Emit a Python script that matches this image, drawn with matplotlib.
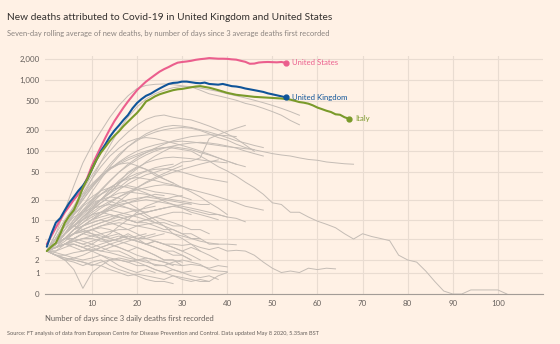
import matplotlib
matplotlib.use("Agg")
import matplotlib.pyplot as plt
import numpy as np

plt.rcParams['font.family'] = ['Lato', 'DejaVu Sans']

# Highlighted countries, one value per day since 3 deaths first recorded
us = [4, 5.5, 7.5, 10, 13, 16, 20, 24, 30, 42, 62, 85, 115, 155, 205, 265, 330,
      410, 500, 600, 720, 830, 950, 1060, 1180, 1310, 1420, 1520, 1640, 1750,
      1790, 1820, 1860, 1920, 1960, 1990, 2030, 2010, 1990, 1990, 1980, 1950,
      1930, 1860, 1800, 1690, 1700, 1760, 1780, 1790, 1780, 1770, 1790, 1740]
uk = [3.6, 6, 9, 10.6, 14, 18, 22, 27, 32, 40, 55, 75, 100, 125, 160, 195, 230,
      275, 322, 400, 475, 540, 600, 640, 700, 760, 820, 880, 910, 920, 950, 950,
      930, 910, 900, 920, 880, 870, 860, 880, 850, 820, 810, 790, 760, 740, 720,
      700, 680, 650, 630, 610, 590, 570]
italy = [3, 3.6, 4.2, 6, 9, 11.5, 14, 20, 30, 40, 55, 75, 95, 115, 140, 165, 190,
         225, 260, 300, 345, 410, 500, 540, 590, 630, 660, 690, 720, 740, 750,
         770, 790, 810, 820, 800, 780, 750, 720, 690, 660, 640, 620, 610, 600,
         590, 580, 575, 570, 565, 560, 555, 550, 540, 530, 510, 490, 480, 465,
         440, 410, 390, 370, 355, 330, 325, 300, 285]

# Other countries, one value every second day
spain = [3, 6, 14, 32, 68, 120, 190, 300, 440, 600, 760, 840, 870, 880, 860, 830,
         800, 720, 640, 600, 560, 520, 470, 440, 400, 360, 320, 270, 235]
france = [3, 4, 7, 12, 22, 40, 70, 120, 200, 300, 420, 540, 640, 720, 780, 810,
          800, 770, 730, 690, 640, 600, 560, 520, 480, 440, 400, 360, 320]
belgium = [3, 5, 9, 16, 28, 45, 70, 100, 140, 185, 234, 280, 310, 322, 300, 285,
           275, 250, 225, 200, 175, 150, 122, 99]
germany = [3, 4, 6, 10, 16, 26, 40, 60, 85, 115, 145, 175, 200, 220, 230, 225,
           215, 200, 185, 170, 155, 140, 130, 120, 112]
iran = [3, 5, 8, 13, 20, 30, 45, 65, 90, 115, 140, 165, 185, 200, 210, 215, 210,
        195, 175, 155, 143, 125, 112, 104, 98, 92, 88, 85, 80, 76, 74, 70, 68,
        66, 65]
china = [3, 5, 9, 15, 22, 32, 42, 55, 68, 80, 90, 100, 108, 112, 110, 105, 100,
         85, 72, 60, 52, 44, 36, 30, 24, 18, 17, 13, 13, 11, 9.5, 8.5, 7.5, 6,
         4.9, 6, 5.4, 5, 4.6, 2.5, 2, 1.8, 1.1, 0.5, 0.1, 0, 0, 0.14, 0.14, 0.14,
         0.14, 0]
south_korea = [3, 4, 5, 6, 6.5, 6, 5.5, 5, 5.5, 5, 4.5, 4, 4.5, 4, 4, 3.8, 4,
               3.5, 3.2, 3.5, 3, 3.1, 3, 2.5, 1.8, 1.3, 1.0, 1.1, 1.0, 1.3,
               1.2, 1.3, 1.25]
netherlands = [3, 5, 9, 15, 25, 40, 60, 85, 110, 135, 150, 155, 150, 140, 130,
               120, 110, 100, 90, 80, 72, 65, 60]
brazil = [3, 4, 6, 8, 11, 14, 18, 22, 28, 34, 40, 46, 50, 55, 60, 70, 72, 80,
          150, 170, 190, 210, 230]
turkey = [3, 6, 10, 16, 24, 34, 45, 55, 65, 75, 85, 95, 105, 112, 115, 110, 105,
          95, 88, 80, 72, 65]
canada = [3, 4, 6, 9, 14, 20, 28, 38, 50, 65, 80, 95, 110, 125, 140, 150, 160,
          165, 170, 168, 165, 160]
sweden = [3, 3.5, 5, 7, 10, 14, 20, 28, 38, 48, 58, 68, 75, 80, 82, 80, 78, 75,
          72, 70, 68]
mexico = [3, 4, 6, 8, 11, 15, 20, 26, 34, 44, 56, 70, 85, 100, 115]
russia = [3, 4, 5, 6, 8, 10, 12, 15, 19, 24, 30, 36, 42, 48, 55, 62]
switzerland = [3, 5, 9, 14, 22, 32, 45, 58, 65, 68, 62, 55, 48, 40, 35, 30, 26,
               22, 18, 15, 12]
ireland = [3, 4, 6, 9, 13, 18, 24, 30, 36, 40, 42, 40, 38, 35, 33, 30, 28]
portugal = [3, 5, 8, 12, 17, 22, 27, 30, 32, 30, 28, 25, 22, 19, 17, 15, 13, 12,
            11, 10]
ecuador = [3, 4, 6, 9, 12, 16, 20, 25, 35, 50, 60, 55, 45, 40, 35]
india = [3, 4, 5, 7, 9, 12, 15, 18, 22, 26, 30, 35, 40, 45, 50, 55, 60, 65, 70,
         75]
peru = [3, 4, 6, 8, 11, 15, 20, 25, 30, 38, 45, 52, 58, 62, 65]
indonesia = [3, 5, 8, 11, 13, 15, 16, 17, 16, 15, 14, 13, 14, 15, 16, 15, 14, 13,
             12, 12, 11]
philippines = [3, 4, 6, 8, 10, 12, 13, 14, 13, 12, 11, 10, 9, 9, 8, 8, 7, 7, 6]
romania = [3, 4, 6, 8, 11, 14, 18, 22, 25, 26, 25, 24, 22, 21, 20, 19, 18, 17, 17]
poland = [3, 3.5, 4.5, 6, 8, 10, 13, 16, 18, 20, 21, 22, 21, 20, 19, 18, 17]
austria = [3, 4, 6, 9, 13, 17, 20, 22, 21, 18, 15, 12, 10, 8, 6, 5, 4, 3, 2.5, 2]
denmark = [3, 4, 6, 8, 10, 12, 13, 12, 11, 10, 9, 9, 8, 7, 7, 6, 6, 5, 4, 4]
japan = [3, 3, 4, 4, 3.5, 4, 5, 6, 8, 10, 13, 16, 18, 20, 22, 23]
egypt = [3, 4, 5, 6, 7, 8, 9, 10, 11, 10, 9, 10, 11, 12, 13, 13, 12]
algeria = [3, 5, 7, 10, 14, 18, 20, 19, 17, 15, 13, 11, 9, 8, 7, 6, 5, 5]
hungary = [3, 4, 5, 7, 8, 10, 11, 12, 11, 10, 9, 10, 11, 10, 9, 8]
chile = [3, 3.5, 4, 5, 6, 7, 8, 9, 10, 11, 12, 13, 14, 15]
colombia = [3, 4, 5, 6, 8, 9, 10, 11, 12, 11, 12, 13, 14, 15, 16, 17, 18]
argentina = [3, 3.5, 4, 5, 6, 5.5, 5, 4.5, 5, 6, 5, 4, 4.5, 4, 3.5, 3, 3.5, 3]
dominican_rep = [3, 4, 6, 8, 7, 6, 5, 5.5, 6, 5, 4.5, 4, 3.5, 3, 3, 2.5, 2]
pakistan = [3, 4, 5, 6, 8, 10, 12, 14, 16, 18, 20, 22, 24, 23]
israel = [3, 4, 5, 7, 8, 9, 10, 9, 8, 7, 6, 5, 4.5, 4, 3.5, 3, 2.5, 2]
saudi_arabia = [3, 3.5, 4, 4.5, 5, 5.5, 6, 6.5, 7, 7, 8, 8.5, 9]
serbia = [3, 4, 5, 6, 6.5, 7, 6, 5, 4.5, 4, 3.5, 3, 2.5, 2, 2, 1.8]
ukraine = [3, 4, 5, 6, 7, 8, 9, 10, 12, 13, 14, 15, 16]
panama = [3, 4, 5, 4.5, 4, 4.5, 5, 4, 3.5, 3, 3.5, 3, 2.5, 2, 2, 1.5]
morocco = [3, 4, 5, 5, 4.5, 4, 3.5, 3, 3, 2.5, 2, 2, 1.5, 1.5, 1.2, 1.0, 1.1]
greece = [3, 3.5, 4, 4, 3.5, 3, 2.5, 2, 2, 1.8, 1.5, 1.5, 1.2, 1.0, 1.2, 1.0,
          0.8, 0.7, 0.8, 0.6]
czechia = [3, 3.5, 4, 5, 6, 7, 7.5, 7, 6, 5, 4.5, 4, 3.5, 3, 2.5, 2.5, 2]
moldova = [3, 3.5, 4, 3.5, 3, 3.5, 4, 4.5, 5, 5.5, 5, 5.5, 6]
finland = [3, 2.5, 2, 2.2, 2.5, 3, 3.5, 4, 3.5, 3, 2.5, 2.2, 2, 1.8, 1.5]
norway = [3, 2.5, 2, 1.2, 0.2, 1.0, 1.5, 2, 2.2, 2, 1.8, 1.5, 1.2, 1.0, 0.8,
          0.7, 0.6, 0.5, 0.5]
bangladesh = [3, 3.5, 4, 4.5, 4, 3.5, 3, 3.5, 4, 4.5, 5, 5, 5.5, 6]
south_africa = [3, 3, 3.5, 4, 3.5, 3, 3.5, 4, 4.5, 5, 5.5, 6]
luxembourg = [3, 2.5, 2, 1.8, 1.5, 1.8, 2, 1.5, 1.2, 1.0, 0.8, 0.6, 0.5, 0.5, 0.4]
bosnia = [3, 2.5, 2.2, 2, 1.8, 1.5, 1.8, 2, 1.5, 1.2, 1.0, 1.2, 1.0]
iraq = [3, 2.5, 2.2, 2, 1.8, 1.6, 1.5, 1.2, 1.0, 0.8, 0.9, 0.8, 0.7, 0.6, 0.8,
        0.6, 0.5, 0.6, 0.5, 0.8, 1.0]
belarus = [3, 3.5, 4, 4.5, 5, 5, 4.5, 4.5, 5, 5.5]
slovenia = [3, 2.8, 2.5, 2.2, 2.0, 2.2, 2.5, 2.2, 2.0, 1.8, 2.0, 2.2, 2.0, 1.8,
            1.6, 1.5, 1.6, 1.5, 1.3, 1.5, 1.4]
croatia = [3, 2.5, 2.5, 2.8, 3, 3.2, 3, 2.8, 2.5, 2.2, 2.0, 1.8, 1.6, 1.5, 1.8,
           2, 1.8, 1.6, 1.2, 1.1, 1.05]
kingdom_a = [3, 4, 5, 7, 9, 11, 13, 15, 17, 18, 19, 20, 19, 18, 17, 16, 15,
             14, 13, 12, 11, 10.5, 9.3]
kingdom_b = [3, 4, 6, 8, 10, 13, 16, 19, 22, 25, 28, 30, 32, 33, 32, 30, 28, 26,
             24, 22, 20, 18, 16, 15, 14]
kingdom_c = [3, 3.5, 4, 5, 6, 7, 8, 8.5, 9, 8.5, 8, 7.5, 7, 6.5, 6, 5.5, 5, 4.5,
             4.2, 4, 4, 3.9]
kingdom_d = [3, 4, 6, 9, 13, 18, 24, 30, 36, 42, 48, 52, 55, 56, 54, 50, 46, 42,
             40, 38, 36]
kingdom_e = [3, 5, 8, 12, 16, 20, 24, 28, 30, 32, 30, 28, 26, 25, 24, 22, 20]
kingdom_f = [3, 5, 8, 13, 20, 30, 42, 56, 70, 85, 100, 112, 122, 130, 135, 138,
             135, 130, 125, 120, 115, 112, 108, 105]
kingdom_g = [3, 4, 6, 9, 13, 19, 27, 37, 50, 62, 75, 88, 100, 110, 118, 125, 130,
             133, 130, 125, 118, 110, 100, 92, 85]

others = [spain, france, belgium, germany, iran, china, south_korea, netherlands,
          brazil, turkey, canada, sweden, mexico, russia, switzerland, ireland,
          portugal, ecuador, india, peru, indonesia, philippines, romania,
          poland, austria, denmark, japan, egypt, algeria, hungary, chile,
          colombia, argentina, dominican_rep, pakistan, israel, saudi_arabia,
          serbia, ukraine, panama, morocco, greece, czechia, moldova, finland,
          norway, bangladesh, south_africa, luxembourg, bosnia, iraq, belarus,
          slovenia, croatia, kingdom_a, kingdom_b, kingdom_c, kingdom_d,
          kingdom_e, kingdom_f, kingdom_g]

y_ticks = [0, 1, 2, 5, 10, 20, 50, 100, 200, 500, 1000, 2000]
x_ticks = [10, 20, 30, 40, 50, 60, 70, 80, 90, 100]

bg = '#fff1e5'
grid_col = '#e9dcd1'
grey = '#c4bcb5'
us_col = '#eb5e8d'
uk_col = '#0f5499'
it_col = '#7a9a2a'
text_col = '#66605c'

fig = plt.figure(figsize=(5.6, 3.44), dpi=100, facecolor=bg)
ax = fig.add_axes([45 / 560, 50 / 344, 498 / 560, 238.4 / 344], facecolor=bg)

# y axis is log(1 + deaths) so that zero can be shown
fwd = lambda v: np.log10(1 + np.clip(v, 0, None))
inv = lambda v: 10 ** v - 1
ax.set_yscale('function', functions=(fwd, inv))
ax.set_xlim(-0.4, 110)
ax.set_ylim(0, 2200)

for vals in others:
    ax.plot(np.arange(len(vals)) * 2, vals, color=grey, lw=0.7, zorder=2)

for vals, col, name in [(us, us_col, 'United States'),
                        (uk, uk_col, 'United Kingdom'),
                        (italy, it_col, 'Italy')]:
    days = np.arange(len(vals))
    ax.plot(days, vals, color=col, lw=1.5, zorder=4, solid_capstyle='round')
    ax.plot(days[-1], vals[-1], 'o', color=col, ms=3.5, zorder=5)
    ax.annotate(name, (days[-1], vals[-1]), xytext=(4.5, 0),
                textcoords='offset points', va='center', ha='left',
                color=col, fontsize=5.6)

ax.set_yticks(y_ticks)
ax.set_yticklabels([f'{v:,}' for v in y_ticks])
ax.set_xticks(x_ticks)
ax.yaxis.set_minor_locator(matplotlib.ticker.NullLocator())
ax.tick_params(axis='both', length=0, labelsize=5.7, colors=text_col, pad=4)
ax.grid(True, color=grid_col, lw=0.8, zorder=0)
ax.set_axisbelow(True)
for s in ['top', 'right', 'left']:
    ax.spines[s].set_visible(False)
ax.spines['bottom'].set_color('#a39c97')
ax.spines['bottom'].set_linewidth(0.8)

ax.set_xlabel('Number of days since 3 daily deaths first recorded',
              fontsize=5.5, color=text_col, loc='left', labelpad=6)

fig.text(7 / 560, 1 - 17 / 344,
         'New deaths attributed to Covid-19 in United Kingdom and United States',
         fontsize=7.3, color='#33302e', va='center', ha='left')
fig.text(7 / 560, 1 - 33 / 344,
         'Seven-day rolling average of new deaths, by number of days since 3 '
         'average deaths first recorded',
         fontsize=5.45, color='#8a837f', va='center', ha='left')
fig.text(7 / 560, 1 - 333 / 344,
         'Source: FT analysis of data from European Centre for Disease Prevention '
         'and Control. Data updated May 8 2020, 5.35am BST',
         fontsize=4.1, color='#66605c', va='center', ha='left')

fig.savefig('out.png', dpi=100, facecolor=bg)
